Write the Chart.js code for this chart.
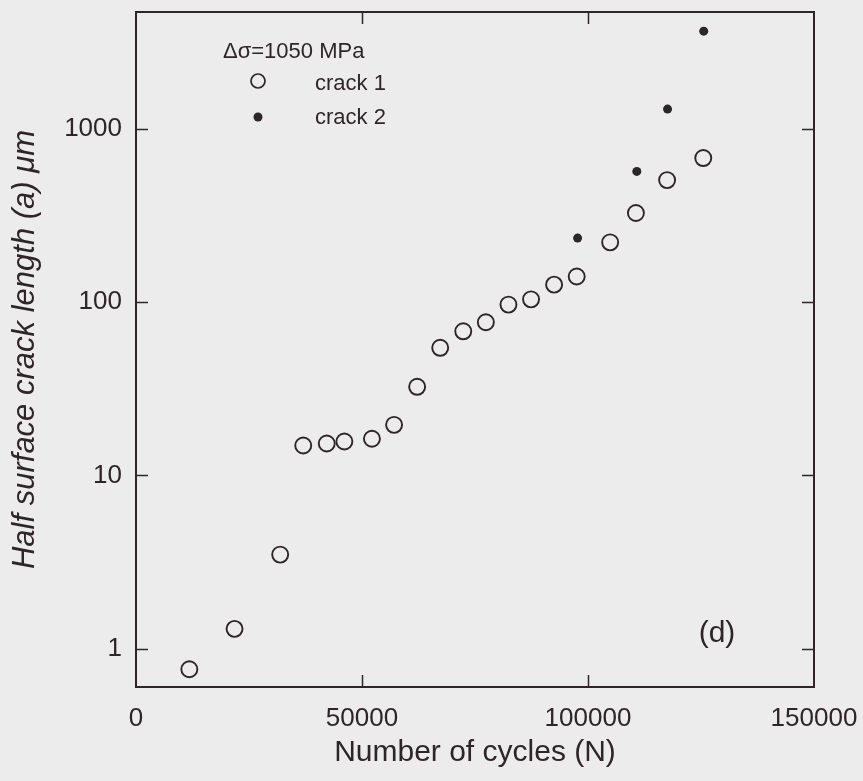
<!DOCTYPE html>
<html>
<head>
<meta charset="utf-8">
<script src="https://cdn.jsdelivr.net/npm/chart.js@4/dist/chart.umd.min.js"></script>
<style>
  html, body { margin: 0; padding: 0; background: #ececec; }
  #wrap { width: 863px; height: 781px; position: relative; }
</style>
</head>
<body>
<div id="wrap"><canvas id="c" width="863" height="781"></canvas></div>
<script>
// ---- data ----
const crack1Cycles = [11800, 21800, 31900, 37000, 42200, 46100, 52200, 57100, 62200, 67300, 72400, 77400, 82400, 87400, 92500, 97500, 104900, 110600, 117500, 125500];
const crack1Length = [0.76, 1.30, 3.49, 14.9, 15.3, 15.7, 16.3, 19.6, 32.5, 54.6, 68, 76.7, 97, 104, 126.5, 141, 222, 328, 508, 681];
const crack2Cycles = [97700, 110800, 117600, 125600];
const crack2Length = [235, 570, 1306, 3680];
const xTicks = [0, 50000, 100000, 150000];
const yTicks = [1, 10, 100, 1000];
const legendTitle = "\u0394\u03c3=1050 MPa";
const seriesNames = ["crack 1", "crack 2"];
const panelLabel = "(d)";

const INK = '#2f2528';
const FONT = "'Liberation Sans', Arial, sans-serif";

const pts = (xs, ys) => xs.map((x, i) => ({x: x, y: ys[i]}));

const framePlugin = {
  id: 'frame',
  afterDraw(chart) {
    const {ctx, chartArea: a, scales: {x, y}} = chart;
    ctx.save();
    ctx.strokeStyle = INK;
    ctx.lineWidth = 2;
    ctx.strokeRect(a.left, a.top, a.right - a.left, a.bottom - a.top);
    const tl = 12;
    ctx.lineWidth = 1.5;
    ctx.beginPath();
    xTicks.forEach(v => {
      const px = Math.round(x.getPixelForValue(v)) + 0.5;
      if (v === xTicks[0] || v === xTicks[xTicks.length - 1]) return;
      ctx.moveTo(px, a.bottom); ctx.lineTo(px, a.bottom - tl);
      ctx.moveTo(px, a.top); ctx.lineTo(px, a.top + tl);
    });
    yTicks.forEach(v => {
      const py = Math.round(y.getPixelForValue(v)) + 0.5;
      ctx.moveTo(a.left, py); ctx.lineTo(a.left + tl, py);
      ctx.moveTo(a.right, py); ctx.lineTo(a.right - tl, py);
    });
    ctx.stroke();

    // legend
    ctx.fillStyle = INK;
    ctx.textBaseline = 'middle';
    ctx.textAlign = 'left';
    ctx.font = "22px " + FONT;
    ctx.fillText(legendTitle, 223, 52);
    ctx.fillText(seriesNames[0], 315, 84);
    ctx.fillText(seriesNames[1], 315, 118);
    ctx.lineWidth = 1.7;
    ctx.beginPath(); ctx.arc(258, 81, 7, 0, Math.PI * 2); ctx.stroke();
    ctx.beginPath(); ctx.arc(258, 117, 4.5, 0, Math.PI * 2); ctx.fill();

    ctx.font = "30px " + FONT;
    ctx.textAlign = 'center';
    ctx.fillText(panelLabel, 717, 634);
    ctx.restore();
  }
};

new Chart(document.getElementById('c'), {
  type: 'scatter',
  data: {
    datasets: [
      {
        label: seriesNames[0],
        data: pts(crack1Cycles, crack1Length),
        pointStyle: 'circle',
        pointRadius: 8,
        pointBorderWidth: 1.9,
        borderColor: INK,
        backgroundColor: 'rgba(0,0,0,0)',
        showLine: false
      },
      {
        label: seriesNames[1],
        data: pts(crack2Cycles, crack2Length),
        pointStyle: 'circle',
        pointRadius: 4.5,
        pointBorderWidth: 0,
        borderColor: INK,
        backgroundColor: INK,
        showLine: false
      }
    ]
  },
  options: {
    responsive: false,
    animation: false,
    events: [],
    layout: { padding: { left: 0, right: 49, top: 12, bottom: 0 } },
    plugins: { legend: { display: false }, tooltip: { enabled: false } },
    scales: {
      x: {
        type: 'linear',
        min: 0, max: 150000,
        afterBuildTicks: s => { s.ticks = xTicks.map(v => ({value: v})); },
        afterFit: s => { s.height = 94; s.paddingLeft = 0; s.paddingRight = 0; },
        grid: { display: false, drawTicks: false },
        border: { display: false },
        ticks: {
          color: INK,
          font: { family: FONT, size: 26 },
          padding: 16,
          maxRotation: 0,
          autoSkip: false,
          callback: v => String(v)
        },
        title: {
          display: true,
          text: 'Number of cycles (N)',
          color: INK,
          font: { family: FONT, size: 30 },
          padding: { top: 0, bottom: 10 }
        }
      },
      y: {
        type: 'logarithmic',
        min: 0.606, max: 4750,
        afterBuildTicks: s => { s.ticks = yTicks.map(v => ({value: v})); },
        afterFit: s => { s.width = 136; s.paddingTop = 0; s.paddingBottom = 0; },
        grid: { display: false, drawTicks: false },
        border: { display: false },
        ticks: {
          color: INK,
          font: { family: FONT, size: 26 },
          padding: 14,
          autoSkip: false,
          callback: v => String(v)
        },
        title: {
          display: true,
          text: 'Half surface crack length (a) \u03bcm',
          color: INK,
          font: { family: FONT, size: 31, style: 'italic' },
          padding: { top: 7, bottom: 0 }
        }
      }
    }
  },
  plugins: [framePlugin]
});
</script>
</body>
</html>
